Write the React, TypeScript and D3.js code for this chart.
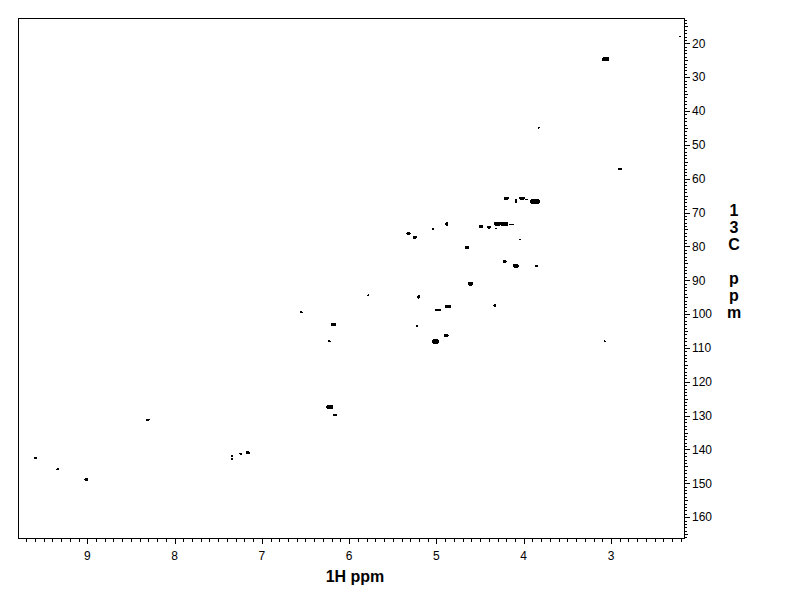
import React from 'react';
import * as d3 from 'd3';

// ---- data (ppm) ----
const peakH = [2.21, 3.06, 3.83, 2.90, 4.20, 4.09, 4.02, 3.97, 3.87, 4.88, 5.04, 5.32, 5.25, 4.49, 4.40, 4.30, 4.22, 4.14, 4.32, 4.04, 4.65, 4.22, 4.09, 3.85, 4.61, 4.88, 5.78, 5.20, 4.33, 4.87, 4.98, 6.55, 6.18, 5.22, 4.89, 5.01, 6.23, 3.07, 6.22, 6.16, 8.31, 9.59, 9.34, 9.01, 7.34, 7.34, 7.24, 7.16];
const peakC = [17.9, 24.75, 45.0, 57.1, 65.75, 66.55, 65.75, 66.25, 66.75, 73.4, 74.8, 76.3, 77.3, 74.1, 74.3, 73.3, 73.4, 73.4, 74.8, 77.85, 80.4, 84.55, 85.7, 85.9, 91.0, 91.1, 94.5, 94.95, 97.5, 97.7, 98.7, 99.5, 103.1, 103.6, 106.2, 108.1, 108.05, 108.1, 127.5, 129.7, 131.15, 142.45, 145.9, 148.9, 142.0, 142.8, 141.2, 141.0];
// peak linewidths (ppm) in the 1H and 13C dimensions
const peakWH = [0.023, 0.085, 0.023, 0.046, 0.063, 0.023, 0.063, 0.034, 0.115, 0.034, 0.023, 0.046, 0.046, 0.046, 0.046, 0.08, 0.08, 0.063, 0.023, 0.023, 0.046, 0.046, 0.063, 0.034, 0.057, 0.012, 0.023, 0.034, 0.034, 0.069, 0.069, 0.034, 0.057, 0.023, 0.057, 0.08, 0.034, 0.023, 0.08, 0.046, 0.046, 0.034, 0.034, 0.046, 0.023, 0.023, 0.034, 0.046];
const peakWC = [0.3, 1.2, 0.6, 0.6, 0.9, 1.2, 0.9, 0.3, 1.2, 1.2, 0.6, 0.9, 0.9, 0.9, 0.9, 1.2, 1.2, 0.3, 0.3, 0.3, 0.9, 0.9, 1.2, 0.6, 1.2, 0.3, 0.6, 0.9, 0.9, 0.9, 0.6, 0.6, 0.9, 0.6, 0.9, 1.2, 0.6, 0.6, 1.2, 0.6, 0.6, 0.6, 0.6, 0.9, 0.6, 0.6, 0.6, 0.9];

const xTickLabels = [9, 8, 7, 6, 5, 4, 3];
const yTickLabels = [20, 30, 40, 50, 60, 70, 80, 90, 100, 110, 120, 130, 140, 150, 160];
const xTitle = '1H ppm';
const yTitle = ['1', '3', 'C', '', 'p', 'p', 'm'];

const W = 792;
const H = 612;
const left = 18.5, right = 684.5, top = 18.5, bottom = 538.5;
const FONT = '"Liberation Sans", Arial, sans-serif';

export default function App() {
  const x = d3.scaleLinear().domain([9.788, 2.158]).range([left, right]);
  const y = d3.scaleLinear().domain([12.68, 166.3]).range([top, bottom]);

  const xMinor = d3.range(22, 98).map((i) => i / 10);
  const yMinor = d3.range(13, 167);

  return (
    <svg width={W} height={H} style={{ position: 'absolute', left: 0, top: 0, background: '#fff' }}>
      <rect x={0} y={0} width={W} height={H} fill="#fff" />
      <rect x={left} y={top} width={right - left} height={bottom - top} fill="none" stroke="#000" strokeWidth={1} shapeRendering="crispEdges" />
      {/* bottom ticks */}
      {xMinor.map((v, i) => {
        const major = Math.abs(v - Math.round(v)) < 1e-6;
        const px = Math.round(x(v)) + 0.5;
        return <line key={'xt' + i} x1={px} x2={px} y1={bottom} y2={bottom + (major ? 5 : 3)} stroke="#000" shapeRendering="crispEdges" />;
      })}
      {xTickLabels.map((v) => (
        <text key={'xl' + v} x={x(v)} y={559.5} textAnchor="middle" fontFamily={FONT} fontSize={12} fill="#000">{v}</text>
      ))}
      {/* right ticks */}
      {yMinor.map((v) => {
        const len = v % 10 === 0 ? 5 : v % 5 === 0 ? 3.5 : 2;
        const py = Math.round(y(v)) + 0.5;
        return <line key={'yt' + v} x1={right} x2={right + len} y1={py} y2={py} stroke="#000" shapeRendering="crispEdges" />;
      })}
      {yTickLabels.map((v) => (
        <text key={'yl' + v} x={692} y={y(v) + 4.3} textAnchor="start" fontFamily={FONT} fontSize={12} fill="#000">{v}</text>
      ))}
      <text x={355} y={582} textAnchor="middle" fontFamily={FONT} fontSize={16} fontWeight="bold" fill="#000">{xTitle}</text>
      {yTitle.map((c, i) => (
        <text key={'yt' + i} x={734} y={216 + i * 17} textAnchor="middle" fontFamily={FONT} fontSize={16} fontWeight="bold" fill="#000">{c}</text>
      ))}
      {/* peaks */}
      {peakH.map((h, i) => {
        const x0 = x(h + peakWH[i] / 2);
        const x1 = x(h - peakWH[i] / 2);
        const y0 = y(peakC[i] - peakWC[i] / 2);
        const y1 = y(peakC[i] + peakWC[i] / 2);
        const w = Math.max(1, x1 - x0);
        const hh = Math.max(1, y1 - y0);
        return (
          <rect key={'p' + i} x={x0} y={y0} width={w} height={hh} rx={Math.min(w, hh) / 3} fill="#000" shapeRendering="crispEdges" />
        );
      })}
    </svg>
  );
}
